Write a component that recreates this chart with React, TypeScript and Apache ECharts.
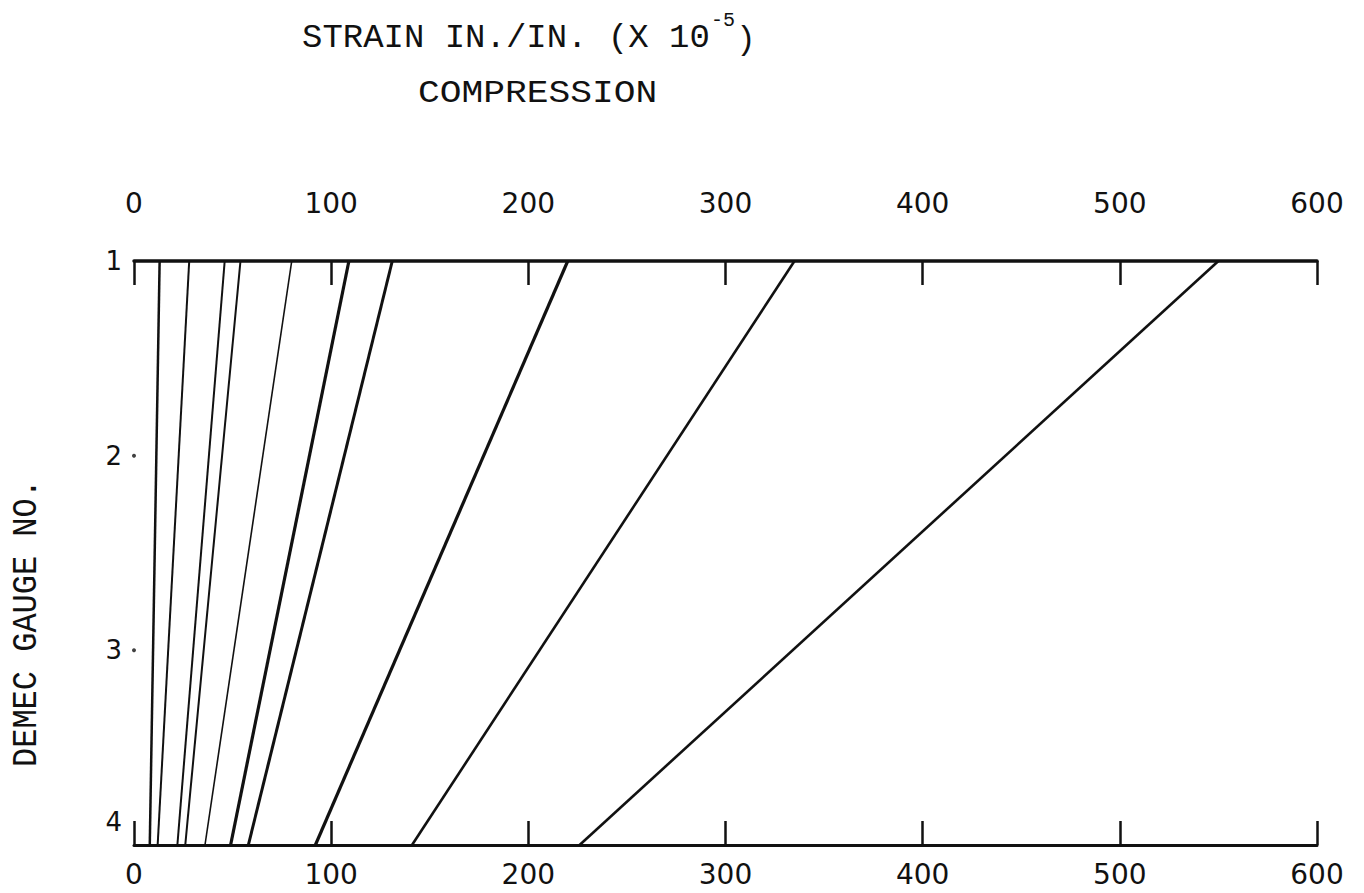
import React, { useEffect, useRef } from "react";
import * as echarts from "echarts";

// ---- data ----
const gaugeLabels = ["1", "2", "3", "4"];
const strainTickLabels = ["0", "100", "200", "300", "400", "500", "600"];
// strain (x 10^-5) at Demec gauge 1 (top) and gauge 4 (bottom), one entry per load line
const strainAtGauge1 = [13, 28, 46, 54, 80, 109, 131, 220, 335, 550];
const strainAtGauge4 = [8, 12, 22, 26, 36, 49, 58, 92, 141, 226];
// intermediate gauges marked on the axis
const markedGauges = [2, 3];

// ---- styles ----
const lineWidths = [2.5, 2, 2, 2, 1.6, 3.2, 3, 3.2, 2.6, 2.6];
const INK = "#111";
const MONO = '"Liberation Mono", "DejaVu Sans Mono", monospace';
const HAND = '"DejaVu Sans", sans-serif';

export default function App() {
  const ref = useRef<HTMLDivElement>(null);

  useEffect(() => {
    document.body.style.margin = "0";
    if (!ref.current) return;
    const chart = echarts.init(ref.current, undefined, { renderer: "svg" });

    const lineSeries = strainAtGauge1.map((top, i) => ({
      type: "line",
      name: "line" + (i + 1),
      xAxisIndex: 0,
      yAxisIndex: 0,
      data: [
        [top, 1],
        [strainAtGauge4[i], 4],
      ],
      showSymbol: false,
      symbol: "none",
      lineStyle: { color: INK, width: lineWidths[i] },
      silent: true,
    }));

    const xAxisCommon = {
      type: "value",
      min: 0,
      max: 600,
      interval: 100,
      splitLine: { show: false },
      axisLine: { show: true, onZero: false, lineStyle: { color: INK, width: 3 } },
      axisTick: { show: true, inside: true, length: 24, lineStyle: { color: INK, width: 2.5 } },
    };

    const option: any = {
      animation: false,
      backgroundColor: "#ffffff",
      grid: { left: 134, right: 47, top: 261, bottom: 48, containLabel: false },
      xAxis: [
        {
          ...xAxisCommon,
          position: "bottom",
          axisLabel: {
            show: true,
            margin: 15,
            fontFamily: HAND,
            fontSize: 28,
            color: INK,
            formatter: (v: number) => strainTickLabels[Math.round(v / 100)],
          },
        },
        {
          ...xAxisCommon,
          position: "top",
          axisLine: { show: true, onZero: false, lineStyle: { color: INK, width: 3.5 } },
          axisLabel: {
            show: true,
            margin: 44,
            fontFamily: HAND,
            fontSize: 28,
            color: INK,
            formatter: (v: number) => strainTickLabels[Math.round(v / 100)],
          },
        },
      ],
      yAxis: {
        type: "value",
        min: 1,
        max: 4,
        interval: 1,
        inverse: true,
        axisLine: { show: false },
        axisTick: { show: false },
        splitLine: { show: false },
        axisLabel: {
          margin: 12,
          fontFamily: HAND,
          fontSize: 26,
          color: INK,
          formatter: (v: number) =>
            v === 4 ? "{low|" + gaugeLabels[3] + "}" : gaugeLabels[Math.round(v) - 1],
          rich: {
            low: { fontFamily: HAND, fontSize: 26, color: INK, padding: [0, 0, 46, 0] },
          },
        },
      },
      series: [
        ...lineSeries,
        {
          type: "scatter",
          xAxisIndex: 0,
          data: markedGauges.map((g) => [0, g]),
          symbol: "circle",
          symbolSize: 4,
          itemStyle: { color: INK },
          silent: true,
        },
      ],
      graphic: [
        {
          type: "text",
          x: 302,
          y: 38,
          scaleX: 1.03,
          style: {
            text: "STRAIN IN./IN. (X 10",
            fontFamily: MONO,
            fontSize: 33,
            fill: INK,
            align: "left",
            verticalAlign: "middle",
          },
        },
        {
          type: "text",
          x: 711,
          y: 20,
          style: {
            text: "-5",
            fontFamily: MONO,
            fontSize: 20,
            fill: INK,
            align: "left",
            verticalAlign: "middle",
          },
        },
        {
          type: "text",
          x: 736,
          y: 40,
          style: {
            text: ")",
            fontFamily: MONO,
            fontSize: 33,
            fill: INK,
            align: "left",
            verticalAlign: "middle",
          },
        },
        {
          type: "text",
          x: 418,
          y: 94,
          scaleX: 1.17,
          style: {
            text: "COMPRESSION",
            fontFamily: MONO,
            fontSize: 31,
            fill: INK,
            align: "left",
            verticalAlign: "middle",
          },
        },
        {
          type: "text",
          x: 27,
          y: 623,
          rotation: Math.PI / 2,
          scaleY: 1.1,
          style: {
            text: "DEMEC GAUGE NO.",
            fontFamily: MONO,
            fontSize: 32,
            fill: INK,
            align: "center",
            verticalAlign: "middle",
          },
        },
      ],
    };

    chart.setOption(option);
    return () => chart.dispose();
  }, []);

  return <div ref={ref} style={{ width: 1364, height: 893 }} />;
}
